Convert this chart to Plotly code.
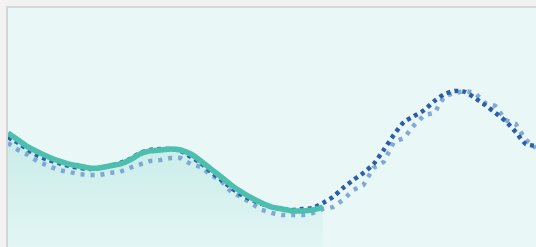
import plotly.graph_objects as go

idx = list(range(53))

teal_vals = [47.7, 44.8, 41.8, 39.7, 37.7, 36.0, 34.7, 33.9, 33.1, 33.1,
             33.9, 34.7, 36.4, 38.9, 40.2, 40.6, 41.0, 40.6, 38.9, 36.0,
             32.6, 29.3, 25.9, 23.0, 20.5, 18.4, 16.7, 15.9, 15.1, 15.1,
             15.5, 16.7]

dark_vals = [46.0, 43.5, 40.6, 38.1, 36.4, 35.1, 33.9, 33.1, 32.6, 33.1,
             33.9, 35.1, 36.8, 39.3, 40.6, 41.0, 41.0, 40.2, 37.7, 35.1,
             31.4, 28.0, 24.7, 21.8, 19.7, 18.0, 16.7, 15.9, 15.5, 15.9,
             16.3, 18.4, 20.9, 24.7, 28.0, 31.0, 34.7, 40.6, 46.9, 52.3,
             54.8, 57.3, 61.1, 64.0, 65.3, 64.9, 62.3, 59.4, 56.1, 52.7,
             48.1, 43.1, 42.3]

light_vals = [43.5, 40.6, 38.5, 35.6, 33.9, 32.2, 31.4, 30.5, 30.1, 30.1,
              31.0, 31.4, 33.1, 34.7, 36.0, 36.4, 37.2, 37.2, 34.7, 33.5,
              30.1, 27.6, 23.0, 20.9, 18.0, 15.5, 14.2, 13.4, 13.4, 13.4,
              14.2, 15.9, 16.7, 19.7, 23.8, 25.9, 33.1, 35.6, 43.9, 45.6,
              51.0, 55.2, 56.1, 63.2, 64.4, 65.3, 64.4, 60.2, 59.0, 53.1,
              51.5, 44.8, 41.4]

fig = go.Figure()

fig.add_trace(go.Scatter(
    x=idx[:len(teal_vals)], y=teal_vals, mode="lines",
    line=dict(color="rgba(0,0,0,0)", width=0, shape="spline", smoothing=0.6),
    fill="tozeroy",
    fillgradient=dict(type="vertical", start=0, stop=50,
                      colorscale=[[0, "#e2f6f4"], [1, "#c6ebe7"]]),
    hoverinfo="skip", showlegend=False))

fig.add_trace(go.Scatter(
    x=idx, y=light_vals, mode="lines",
    line=dict(color="rgba(110,155,210,0.85)", width=4.5, dash="4px,6px"),
    showlegend=False))

fig.add_trace(go.Scatter(
    x=idx, y=dark_vals, mode="lines",
    line=dict(color="#2b5ea8", width=4.5, dash="4px,4px", shape="spline", smoothing=0.6),
    showlegend=False))

fig.add_trace(go.Scatter(
    x=idx[:len(teal_vals)], y=teal_vals, mode="lines",
    line=dict(color="#4dbfae", width=5.5, shape="spline", smoothing=0.6),
    showlegend=False))

fig.update_layout(
    width=536, height=247,
    margin=dict(l=8, r=0, t=8, b=0),
    paper_bgcolor="#f2f2f2",
    plot_bgcolor="#eaf7f7",
    xaxis=dict(range=[0, 52], showgrid=False, zeroline=False, showticklabels=False,
               ticks="", showline=True, side="top", linecolor="#d6d6d6", linewidth=2),
    yaxis=dict(range=[0, 100], showgrid=False, zeroline=False, showticklabels=False,
               ticks="", showline=True, linecolor="#d6d6d6", linewidth=2),
)

fig.write_html(
    "out.html",
    config={"displayModeBar": False},
    post_script="document.body.style.margin='0';document.body.style.overflow='hidden';",
)
